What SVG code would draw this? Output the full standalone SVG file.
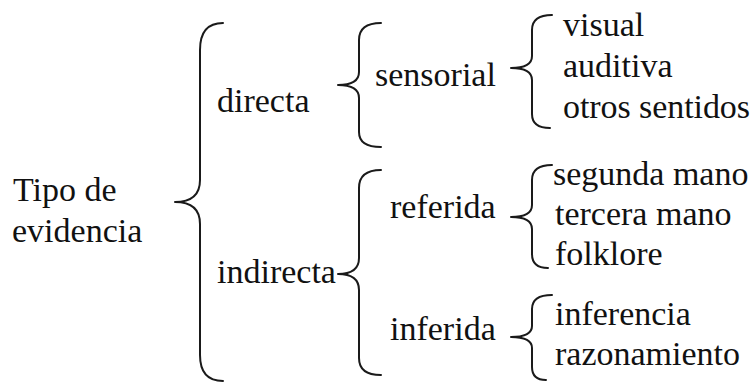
<svg xmlns="http://www.w3.org/2000/svg" width="755" height="383" viewBox="0 0 755 383">
  <style>
    .t { font-family: "Liberation Serif", "Times New Roman", serif; font-size: 34px; fill: #111; }
    .br { fill: none; stroke: #1a1a1a; stroke-width: 2; stroke-linecap: round; stroke-linejoin: round; }
  </style>
  <rect width="755" height="383" fill="#fff"/>

  <!-- curly braces joining each level to the next -->
  <g id="connectors">
    <path class="br" d="M223 23 Q200 23 200 50 L200 180 Q200 202 175 202 Q200 202 200 224 L200 355 Q200 381 223 381"/>
    <path class="br" d="M381 23 Q359 23 359 40 L359 72 Q359 85 338 85 Q359 85 359 98 L359 132 Q359 147 381 147"/>
    <path class="br" d="M381 170 Q359 170 359 188 L359 258 Q359 274 338 274 Q359 274 359 290 L359 358 Q359 375 381 375"/>
    <path class="br" d="M552 15 Q532 15 532 30 L532 56 Q532 68 511 68 Q532 68 532 80 L532 114 Q532 128 550 128"/>
    <path class="br" d="M552 165 Q532 165 532 180 L532 205 Q532 217 511 217 Q532 217 532 229 L532 254 Q532 268 548 268"/>
    <path class="br" d="M552 295 Q532 295 532 309 L532 326 Q532 337 511 337 Q532 337 532 348 L532 367 Q532 380 546 380"/>
  </g>

  <g id="root"><text class="t" x="13" y="201">Tipo de</text><text class="t" x="12" y="242">evidencia</text></g>
  <g id="directa"><text class="t" x="217" y="112">directa</text></g>
  <g id="indirecta"><text class="t" x="217" y="283">indirecta</text></g>
  <g id="sensorial"><text class="t" x="375" y="86">sensorial</text></g>
  <g id="referida"><text class="t" x="390" y="218">referida</text></g>
  <g id="inferida"><text class="t" x="390" y="340">inferida</text></g>
  <g id="visual"><text class="t" x="563" y="36">visual</text></g>
  <g id="auditiva"><text class="t" x="563" y="77">auditiva</text></g>
  <g id="otros-sentidos"><text class="t" x="563" y="118" textLength="187" lengthAdjust="spacing">otros sentidos</text></g>
  <g id="segunda-mano"><text class="t" x="553" y="185">segunda mano</text></g>
  <g id="tercera-mano"><text class="t" x="555" y="225">tercera mano</text></g>
  <g id="folklore"><text class="t" x="555" y="265">folklore</text></g>
  <g id="inferencia"><text class="t" x="555" y="325">inferencia</text></g>
  <g id="razonamiento"><text class="t" x="555" y="365">razonamiento</text></g>
</svg>
